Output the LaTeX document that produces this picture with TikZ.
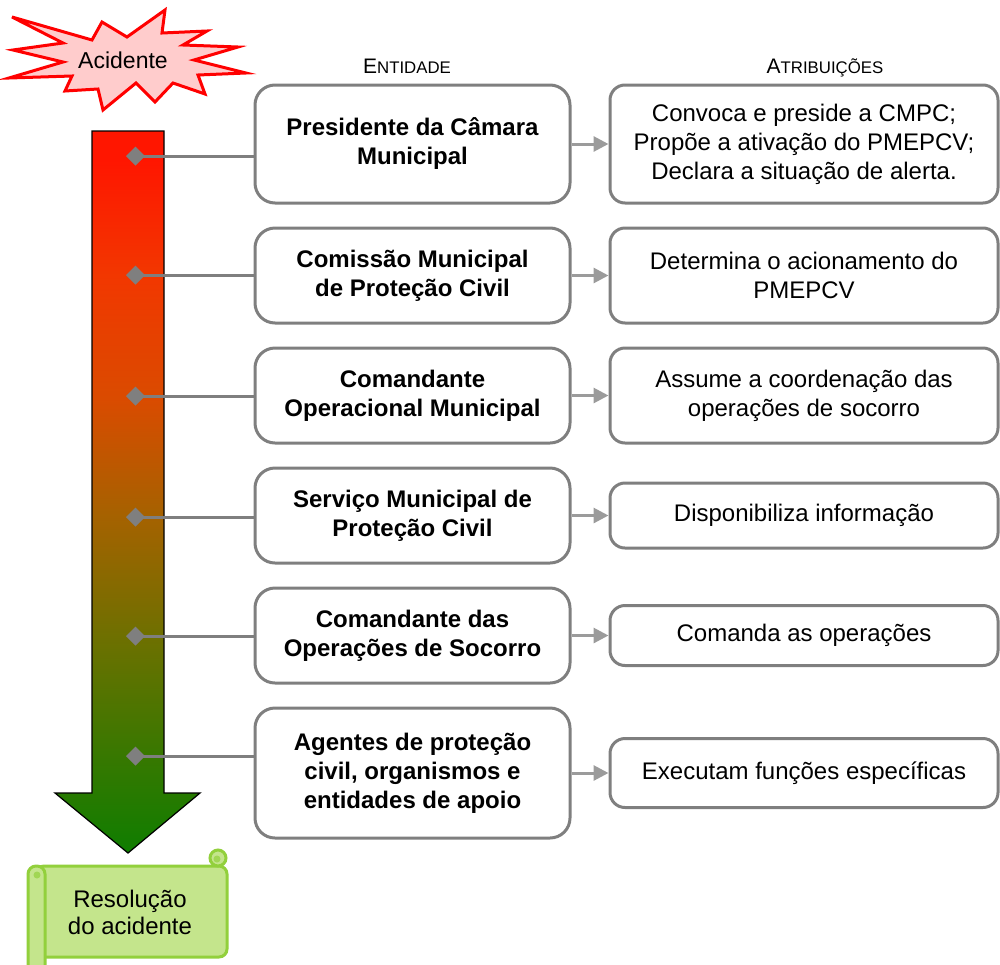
\documentclass[tikz,border=0pt]{standalone}
\usepackage{fontspec}
\setmainfont{Liberation Sans}
\usetikzlibrary{arrows.meta,positioning}

\definecolor{boxgray}{RGB}{127,127,127}
\definecolor{arrgray}{RGB}{155,155,155}
\definecolor{burstfill}{RGB}{255,204,204}
\definecolor{hotred}{RGB}{255,22,0}
\definecolor{redorange}{RGB}{242,55,0}
\definecolor{orange}{RGB}{218,75,0}
\definecolor{brown}{RGB}{165,98,0}
\definecolor{olive}{RGB}{110,112,0}
\definecolor{leaf}{RGB}{55,120,0}
\definecolor{darkgreen}{RGB}{15,125,0}
\definecolor{scrollfill}{RGB}{196,229,140}
\definecolor{scrollline}{RGB}{146,208,60}

\pgfdeclareverticalshading{alarm}{100bp}{color(0bp)=(darkgreen); color(25bp)=(darkgreen);
  color(31.7bp)=(leaf); color(40bp)=(olive); color(48.3bp)=(brown); color(56.5bp)=(orange);
  color(65bp)=(redorange); color(73bp)=(hotred); color(100bp)=(hotred)}

\tikzset{
  entity/.style={draw=boxgray, line width=1.5pt, rounded corners=10pt, fill=white,
    minimum width=157.5pt, align=center, font=\bfseries\fontsize{12}{14.5}\selectfont},
  task/.style={draw=boxgray, line width=1.5pt, rounded corners=7.5pt, fill=white,
    minimum width=194pt, align=center, font=\fontsize{12}{14.5}\selectfont},
  header/.style={anchor=base, font=\fontsize{8.4}{10}\selectfont},
  link/.style={color=boxgray, line width=1.5pt, {Diamond[length=9.5pt,width=9.5pt]}-},
  flow/.style={color=arrgray, line width=1.5pt, -{Triangle[length=7.5pt,width=7.5pt]}},
  burst/.style={draw=red, fill=burstfill, line width=1.5pt, line join=miter},
  scroll/.style={draw=scrollline, fill=scrollfill, line width=1.5pt}
}

\begin{document}
\begin{tikzpicture}[x=0.5pt, y=-0.5pt, node distance=11pt]
  \useasboundingbox (0,0) rectangle (1000,964);

  \draw[burst] (12,17) -- (92,40) -- (102,22) -- (127,37) -- (165,10) -- (162,33)
    -- (207,31) -- (183,45) -- (238,47) -- (194,60) -- (246,73) -- (198,75)
    -- (205,94) -- (173,83) -- (155,102) -- (136,83) -- (103,110) -- (98,89)
    -- (65,91) -- (72,76) -- (9,78) -- (63,62) -- (13,50) -- (63,43) -- cycle;
  \node[font=\fontsize{11.5}{13}\selectfont] (acc) at (123,60) {Acidente};

  \shadedraw[shading=alarm, draw=black, line width=0.6pt]
    (92,131) -- (164,131) -- (164,793) -- (200,793) -- (128,853) -- (55,793)
    -- (92,793) -- cycle;

  % scroll
  \filldraw[scroll, rounded corners=4pt] (36,866) rectangle (227,957);
  \filldraw[scroll] (218,858) circle[radius=8];
  \fill[scrollline!70!scrollfill] (217,859) circle[radius=3.5];
  \filldraw[scroll, rounded corners=4pt] (28,866) rectangle (45,990);
  \fill[scrollline!70!scrollfill] (37,875) circle[radius=3.5];
  \node[align=center, font=\fontsize{12}{13.5}\selectfont] (res) at (130,912)
    {Resolução\\do acidente};

  \node[header] (hent) at (407,73) {{\fontsize{10.5}{12}\selectfont E}NTIDADE};
  \node[header] (hatr) at (825,73) {{\fontsize{10.5}{12}\selectfont A}TRIBUIÇÕES};

  \node[entity, minimum height=59pt] (e1) at (412.5,144) {Presidente da Câmara\\Municipal};
  \node[entity, minimum height=47.5pt, below=of e1] (e2) {Comissão Municipal\\de Proteção Civil};
  \node[entity, minimum height=47.5pt, below=of e2] (e3) {Comandante\\Operacional Municipal};
  \node[entity, minimum height=47.5pt, below=of e3] (e4) {Serviço Municipal de\\Proteção Civil};
  \node[entity, minimum height=47.5pt, below=of e4] (e5) {Comandante das\\Operações de Socorro};
  \node[entity, minimum height=65pt, below=of e5] (e6) {Agentes de proteção\\civil, organismos e\\entidades de apoio};

  \node[task, minimum height=59pt, right=18.5pt of e1] (a1)
    {Convoca e preside a CMPC;\\Propõe a ativação do PMEPCV;\\Declara a situação de alerta.};
  \node[task, minimum height=47.5pt, right=18.5pt of e2] (a2) {Determina o acionamento do\\PMEPCV};
  \node[task, minimum height=47.5pt, right=18.5pt of e3] (a3) {Assume a coordenação das\\operações de socorro};
  \node[task, minimum height=32.5pt, right=18.5pt of e4] (a4) {Disponibiliza informação};
  \node[task, minimum height=30pt, right=18.5pt of e5] (a5) {Comanda as operações};
  \node[task, minimum height=34.5pt, right=18.5pt of e6] (a6) {Executam funções específicas};

  \coordinate (d1) at (126,156);
  \coordinate (d2) at (126,275);
  \coordinate (d3) at (126,396);
  \coordinate (d4) at (126,517);
  \coordinate (d5) at (126,636);
  \coordinate (d6) at (126,756);

  \draw[link] (d1) -- (d1 -| e1.west);
  \draw[link] (d2) -- (d2 -| e2.west);
  \draw[link] (d3) -- (d3 -| e3.west);
  \draw[link] (d4) -- (d4 -| e4.west);
  \draw[link] (d5) -- (d5 -| e5.west);
  \draw[link] (d6) -- (d6 -| e6.west);

  \draw[flow] (e1) -- (a1);
  \draw[flow] (e2) -- (a2);
  \draw[flow] (e3) -- (a3);
  \draw[flow] (e4) -- (a4);
  \draw[flow] (e5) -- (a5);
  \draw[flow] (e6) -- (a6);
\end{tikzpicture}
\end{document}
